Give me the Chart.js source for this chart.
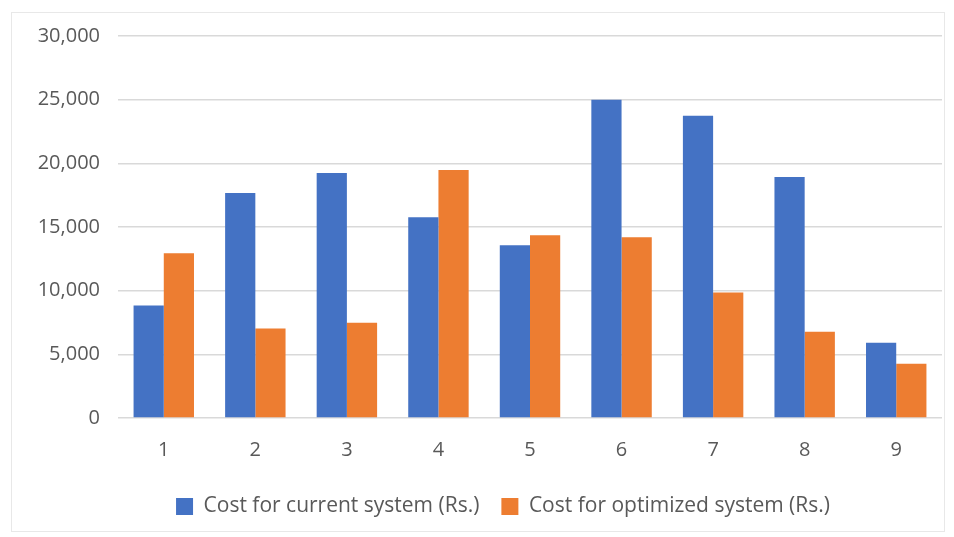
<!DOCTYPE html>
<html>
<head>
<meta charset="utf-8">
<script src="https://cdn.jsdelivr.net/npm/chart.js@4"></script>
<style>
  body { margin: 0; background: #fff; }
  #wrap { position: relative; width: 954px; height: 537px; }
  #frame { position: absolute; left: 11px; top: 12px; width: 932px; height: 518px; border: 1px solid #e8e8e8; }
  canvas { position: absolute; left: 0; top: 0; }
</style>
</head>
<body>
<div id="wrap">
  <div id="frame"></div>
  <canvas id="grafico" width="954" height="537"></canvas>
</div>
<script>
const categorias = ["1", "2", "3", "4", "5", "6", "7", "8", "9"];
const costoActual = [8830, 17670, 19240, 15770, 13560, 25000, 23740, 18930, 5910];
const costoOptimizado = [12930, 7020, 7490, 19480, 14350, 14200, 9860, 6780, 4260];

const gris = "#595959";
const fuente = { family: "Open Sans", size: 20 };

// en el original la leyenda está un poco corrida a la derecha
const moverLeyenda = {
    id: "moverLeyenda",
    afterLayout(chart) {
        chart.legend.left += 32;
        chart.legend.right += 32;
    },
};

const ctx = document.getElementById("grafico").getContext("2d");
new Chart(ctx, {
    type: "bar",
    data: {
        labels: categorias,
        datasets: [
            {
                label: "Cost for current system (Rs.)",
                data: costoActual,
                backgroundColor: "#4472C4",
                categoryPercentage: 0.66,
                barPercentage: 1.0,
            },
            {
                label: "Cost for optimized system (Rs.)",
                data: costoOptimizado,
                backgroundColor: "#ED7D31",
                categoryPercentage: 0.66,
                barPercentage: 1.0,
            },
        ],
    },
    plugins: [moverLeyenda],
    options: {
        responsive: false,
        animation: false,
        layout: { padding: { top: 36, right: 12, bottom: 10, left: 0 } },
        plugins: {
            legend: {
                position: "bottom",
                labels: {
                    boxWidth: 17,
                    boxHeight: 17,
                    padding: 22,
                    color: gris,
                    font: { family: "Open Sans", size: 21 },
                },
            },
            tooltip: { enabled: false },
        },
        scales: {
            x: {
                grid: { display: false },
                border: { display: false },
                ticks: {
                    color: gris,
                    padding: 12,
                    font: fuente,
                },
            },
            y: {
                min: 0,
                max: 30000,
                afterFit: (scale) => { scale.width = 118; },
                grid: { color: "#d9d9d9", lineWidth: 1.5, drawTicks: false },
                border: { display: false },
                ticks: {
                    stepSize: 5000,
                    color: gris,
                    padding: 18,
                    font: fuente,
                    callback: (v) => v.toLocaleString("en-US"),
                },
            },
        },
    },
});
</script>
</body>
</html>
